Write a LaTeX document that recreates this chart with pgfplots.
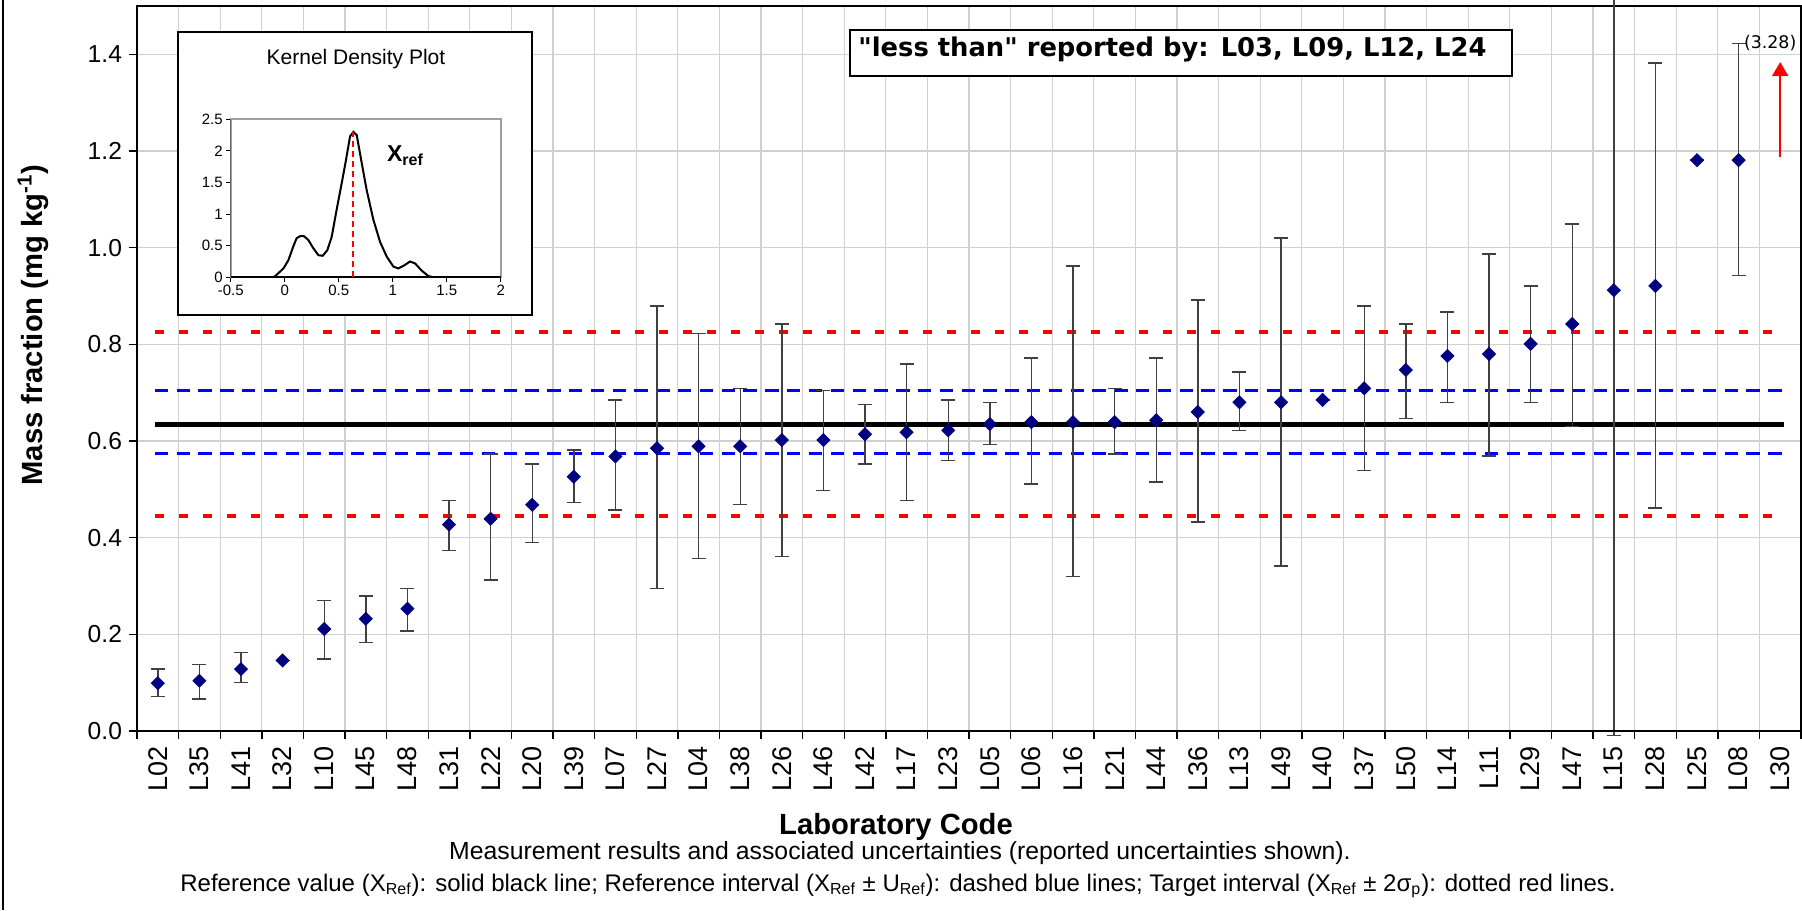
\documentclass[border=0pt]{standalone}
\usepackage{fontspec}
\setmainfont{Liberation Sans}
\newfontfamily\dejavu{DejaVu Sans}
\usepackage{pgfplots}
\pgfplotsset{compat=1.18}
\usepackage{pgfplotstable}
\usetikzlibrary{arrows.meta}
\definecolor{navy}{HTML}{000080}
\definecolor{gridgray}{HTML}{D0D0D0}

% index, value, error plus, error minus
\pgfplotstableread{
i y ep em
0 0.099 0.029 0.028
1 0.104 0.033 0.038
2 0.128 0.035 0.028
3 0.146 0 0
4 0.211 0.059 0.062
5 0.232 0.047 0.049
6 0.253 0.042 0.046
7 0.427 0.050 0.053
8 0.439 0.134 0.127
9 0.468 0.084 0.078
10 0.526 0.055 0.053
11 0.568 0.117 0.111
12 0.585 0.294 0.290
13 0.589 0.233 0.232
14 0.589 0.120 0.120
15 0.602 0.240 0.241
16 0.602 0.103 0.104
17 0.614 0.062 0.062
18 0.618 0.141 0.141
19 0.622 0.063 0.062
20 0.635 0.045 0.042
21 0.639 0.133 0.128
22 0.639 0.323 0.319
23 0.639 0.070 0.066
24 0.643 0.129 0.128
25 0.660 0.232 0.228
26 0.680 0.063 0.058
27 0.680 0.340 0.339
28 0.685 0 0
29 0.709 0.170 0.170
30 0.747 0.095 0.100
31 0.776 0.091 0.096
32 0.780 0.207 0.211
33 0.801 0.120 0.121
34 0.842 0.207 0.212
35 0.912 0.921 0.921
36 0.921 0.461 0.460
37 1.181 0 0
38 1.181 0.242 0.239
}\labdata

\pgfplotstableread{
x y
-0.17 0
-0.105 0
-0.074 0.04
-0.012 0.14
0.034 0.27
0.080 0.49
0.111 0.62
0.142 0.65
0.179 0.65
0.219 0.59
0.265 0.46
0.312 0.35
0.352 0.34
0.395 0.43
0.435 0.64
0.481 1.07
0.528 1.49
0.568 1.86
0.605 2.23
0.636 2.30
0.667 2.25
0.713 1.81
0.759 1.38
0.821 0.91
0.883 0.56
0.944 0.33
1.006 0.17
1.052 0.14
1.099 0.18
1.160 0.25
1.207 0.22
1.269 0.105
1.330 0.02
1.377 0
2.0 0
}\kde

\begin{document}
\begin{tikzpicture}
\begin{axis}[
  at={(68.5pt,89.5pt)}, anchor=south west,
  scale only axis, width=832pt, height=362.5pt,
  xmin=-0.5, xmax=39.5, ymin=0, ymax=1.5,
  clip=false,
  axis line style={black, line width=0.9pt},
  tick pos=left, tick align=outside,
  major tick length=4pt, minor tick length=4pt,
  xtick={0,...,39},
  xticklabels={L02,L35,L41,L32,L10,L45,L48,L31,L22,L20,L39,L07,L27,L04,L38,L26,L46,L42,L17,L23,L05,L06,L16,L21,L44,L36,L13,L49,L40,L37,L50,L14,L11,L29,L47,L15,L28,L25,L08,L30},
  minor xtick={-0.5,0.5,...,39.5},
  major x tick style={draw=none},
  minor x tick style={black, line width=0.7pt},
  ytick={0,0.2,0.4,0.6,0.8,1.0,1.2,1.4},
  y tick style={black, line width=0.7pt},
  xminorgrids=true, ymajorgrids=true,
  major grid style={gridgray, line width=0.6pt},
  minor grid style={gridgray, line width=0.6pt},
  /pgf/number format/assume math mode=true,
  xticklabel style={rotate=90, anchor=east, font=\fontsize{13.5}{15}\selectfont},
  yticklabel style={font=\fontsize{12.3}{14}\selectfont, /pgf/number format/.cd, fixed, fixed zerofill, precision=1},
]
% reference lines
\addplot[red, line width=2pt, dash pattern=on 4.5pt off 7.5pt] coordinates {(-0.07,0.826) (39.09,0.826)};
\addplot[red, line width=2pt, dash pattern=on 4.5pt off 7.5pt] coordinates {(-0.07,0.445) (39.09,0.445)};
\addplot[blue, line width=1.5pt, dash pattern=on 6.7pt off 4.2pt] coordinates {(-0.07,0.704) (39.09,0.704)};
\addplot[blue, line width=1.5pt, dash pattern=on 6.7pt off 4.2pt] coordinates {(-0.07,0.575) (39.09,0.575)};
\addplot[black, line width=2.2pt] coordinates {(-0.07,0.634) (39.09,0.634)};
% results
\addplot[only marks, mark=square*, mark size=2.3pt,
  mark options={rotate=45, fill=navy, draw=navy},
  error bars/.cd, y dir=both, y explicit,
  error mark=-,
  error bar style={line width=0.7pt, black!75},
  error mark options={rotate=90, line width=0.7pt, black!75, mark size=3.5pt}]
  table[x=i, y=y, y error plus=ep, y error minus=em] {\labdata};
% arrow for L30
\addplot[red, line width=1pt, -{Triangle[width=8pt,length=7pt]}] coordinates {(39,1.187) (39,1.384)};
\node[anchor=west, inner sep=0pt, xshift=2.5pt, font=\dejavu\fontsize{8.7}{10}\selectfont] at (axis cs:38,1.423) {(3.28)};
\draw[line width=1.4pt] (axis cs:-0.5,0) -- (axis cs:39.5,0);
\end{axis}

% outer frame left line
\draw[line width=0.8pt] (1.35pt,0pt) -- (1.35pt,455pt);

% y label
\node[rotate=90, anchor=base, inner sep=0pt, font=\bfseries\fontsize{14.6}{16}\selectfont] at (21pt,292.5pt) {Mass fraction (mg kg\textsuperscript{-1})};

% x label and notes
\node[anchor=base, inner sep=0pt, font=\bfseries\fontsize{14.6}{16}\selectfont] at (448pt,38pt) {Laboratory Code};
\node[anchor=base, inner sep=0pt, font=\fontsize{12.4}{14}\selectfont] at (450pt,25.5pt) {Measurement results and associated uncertainties (reported uncertainties shown).};
\node[anchor=base, inner sep=0pt, font=\fontsize{12}{14}\selectfont] at (449pt,9.5pt) {Reference value (X\textsubscript{Ref}): solid black line; Reference interval (X\textsubscript{Ref} ± U\textsubscript{Ref}): dashed blue lines; Target interval (X\textsubscript{Ref} ± 2σ\textsubscript{p}): dotted red lines.};

% less than box
\draw[line width=1pt, fill=white] (425pt,417pt) rectangle (756pt,440pt);
\node[anchor=base west, inner sep=0pt, font=\dejavu\bfseries\fontsize{12.9}{14}\selectfont] at (429pt,426.5pt) {"less than" reported by: L03, L09, L12, L24};

% inset
\draw[line width=0.9pt, fill=white] (89pt,297.5pt) rectangle (266pt,439.15pt);
\node[anchor=base, inner sep=0pt, font=\fontsize{10.5}{12}\selectfont] at (178pt,422.85pt) {Kernel Density Plot};
\begin{axis}[
  at={(115.35pt,316.35pt)}, anchor=south west,
  scale only axis, width=135pt, height=79pt,
  xmin=-0.5, xmax=2, ymin=0, ymax=2.5,
  axis line style={draw=gray!75, line width=0.8pt},
  tick pos=left, tick align=outside, major tick length=2.3pt,
  tick style={black, line width=0.5pt},
  xtick={-0.5,0,0.5,1,1.5,2},
  ytick={0,0.5,1,1.5,2,2.5},
  /pgf/number format/assume math mode=true,
  ticklabel style={font=\fontsize{7.5}{9}\selectfont},
  xticklabel style={inner sep=1.5pt},
  yticklabel style={inner sep=1.5pt},
]
\draw[black, line width=0.6pt] (rel axis cs:0,0) -- (rel axis cs:0,1);
\addplot[black, line width=1pt] table[x=x, y=y] {\kde};
\draw[black, line width=0.8pt] (rel axis cs:0,0) -- (rel axis cs:1,0);
\addplot[red, line width=1pt, dash pattern=on 3pt off 2pt] coordinates {(0.63,0) (0.63,2.3)};
\end{axis}
\node[anchor=base west, inner sep=0pt, font=\bfseries\fontsize{11.5}{13}\selectfont] at (193.35pt,374.15pt) {X\raisebox{-0.35ex}{\fontsize{8}{9}\selectfont ref}};

\pgfresetboundingbox
\path[use as bounding box] (0pt,0pt) rectangle (901pt,455pt);
\end{tikzpicture}
\end{document}
